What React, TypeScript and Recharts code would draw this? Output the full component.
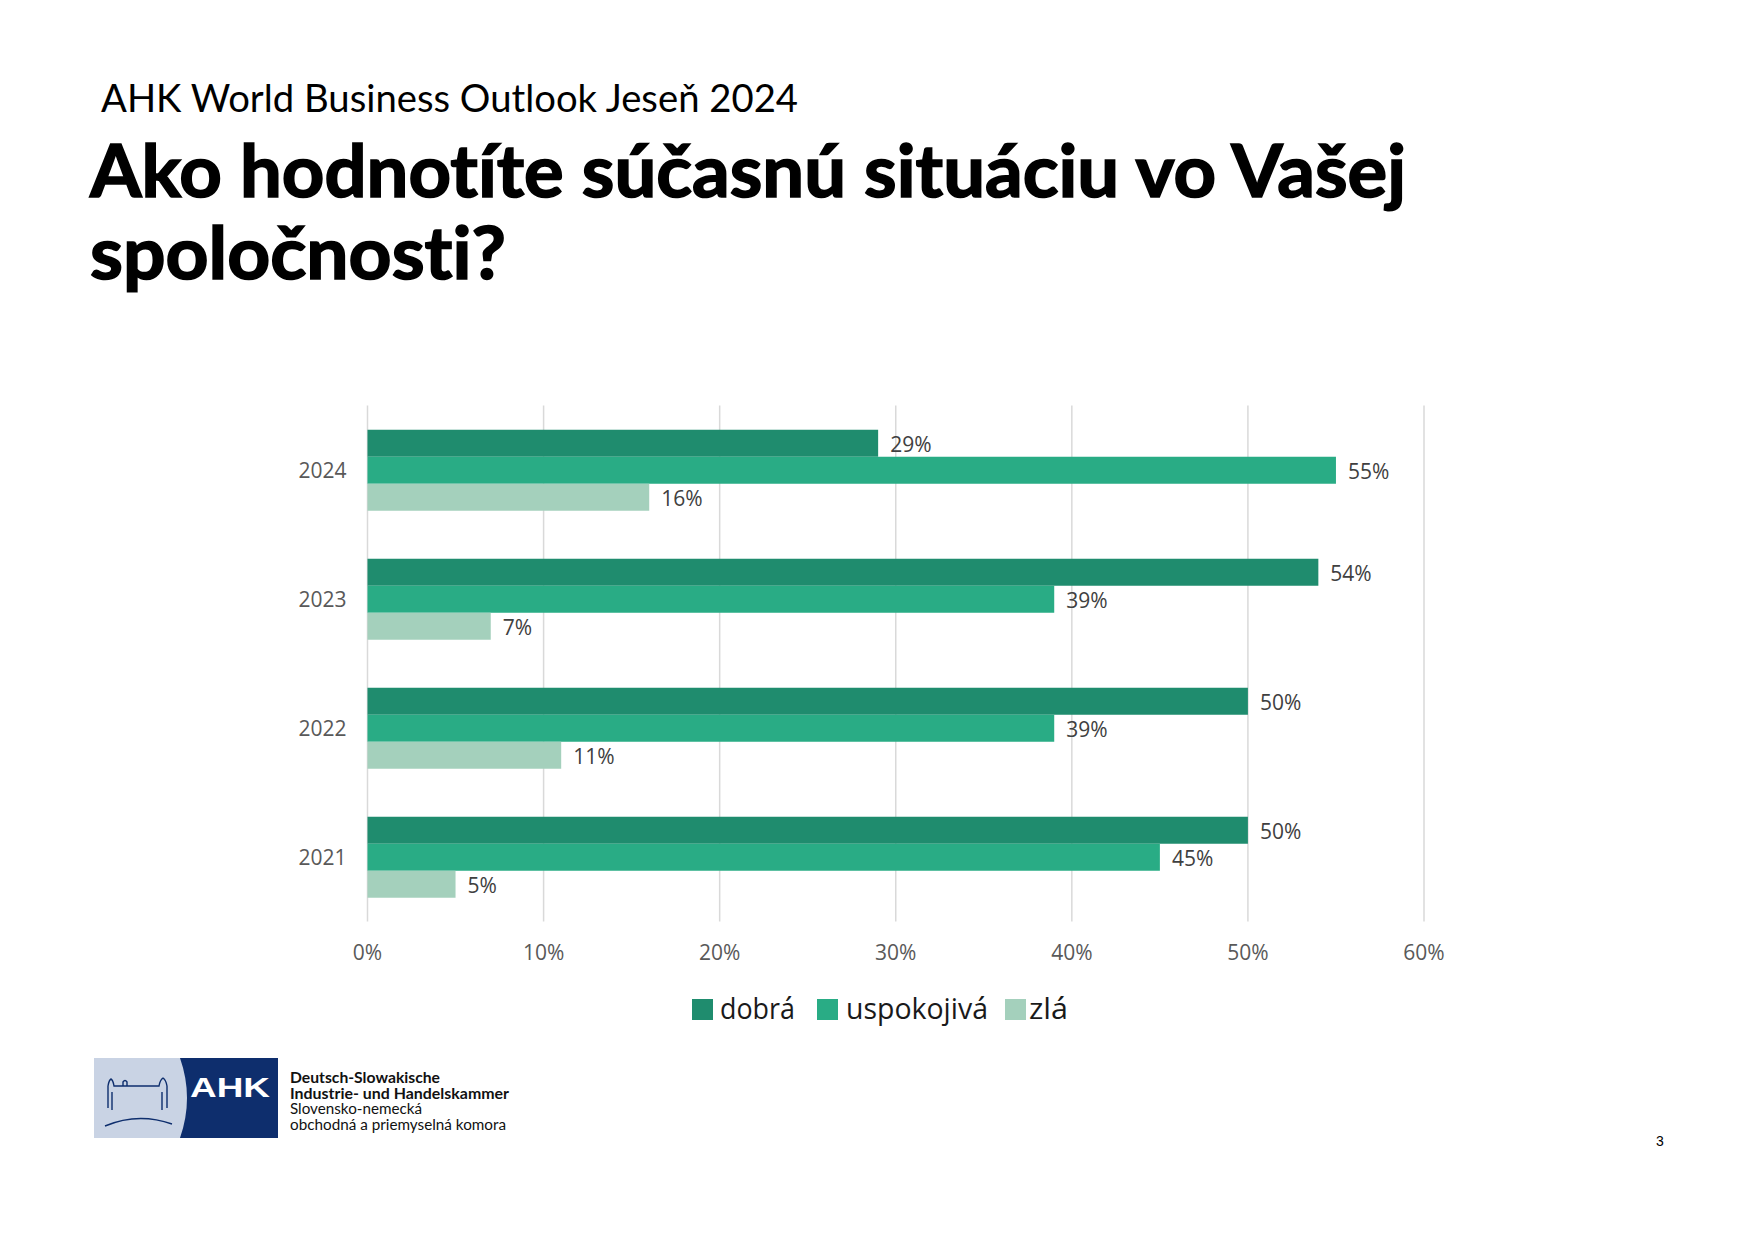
import React from 'react';
import { BarChart, Bar, XAxis, YAxis, CartesianGrid, LabelList } from 'recharts';

const years = ['2024', '2023', '2022', '2021'];
const dobra = [29, 54, 50, 50];
const uspokojiva = [55, 39, 39, 45];
const zla = [16, 7, 11, 5];
const xTicks = [0, 10, 20, 30, 40, 50, 60];
const seriesKeys = ['dobra', 'uspokojiva', 'zla'];
const seriesNames = ['dobrá', 'uspokojivá', 'zlá'];
const seriesColors = ['#1F8C6E', '#29AC85', '#A4D0BC'];

const subtitle = 'AHK World Business Outlook Jeseň 2024';
const titleLines = ['Ako hodnotíte súčasnú situáciu vo Vašej', 'spoločnosti?'];
const logoLines = [
  'Deutsch-Slowakische',
  'Industrie- und Handelskammer',
  'Slovensko-nemecká',
  'obchodná a priemyselná komora',
];

const data = years.map((y, i) => ({
  year: y,
  dobra: dobra[i],
  uspokojiva: uspokojiva[i],
  zla: zla[i],
}));

const FONT = '"Open Sans", "Noto Sans", sans-serif';
const noLig = { fontVariantLigatures: 'none' as const, fontFeatureSettings: '"liga" 0, "clig" 0' };

// legend item geometry (square left, text left, text width)
const legendSquareX = [692, 817, 1005];
const legendTextX = [720, 846, 1029];
const legendTextW = [75, 142, 39];

export default function App() {
  return (
    <div style={{ position: 'absolute', left: 0, top: 0, width: 1755, height: 1240, background: '#fff', overflow: 'hidden' }}>
      <div style={{ position: 'absolute', left: 0, top: 0 }}>
        <BarChart
          width={1755}
          height={1240}
          data={data}
          layout="vertical"
          margin={{ top: 405.5, right: 331, bottom: 288.5, left: 287.5 }}
          barGap={0}
          barCategoryGap="18.8%"
        >
          <CartesianGrid horizontal={false} vertical={true} stroke="#D9D9D9" strokeWidth={1.5} />
          <XAxis
            type="number"
            domain={[0, 60]}
            ticks={xTicks}
            tickFormatter={(v: number) => `${v}%`}
            axisLine={false}
            tickLine={false}
            tickSize={0}
            tickMargin={24}
            height={30}
            interval={0}
            tick={{ fill: '#595959', fontSize: 21, fontFamily: FONT }}
          />
          <YAxis
            type="category"
            dataKey="year"
            axisLine={false}
            tickLine={false}
            tickSize={0}
            tickMargin={21}
            width={80}
            tick={{ fill: '#595959', fontSize: 21, fontFamily: FONT, dy: 1 }}
          />
          {seriesKeys.map((k, i) => (
            <Bar key={k} dataKey={k} name={seriesNames[i]} fill={seriesColors[i]} isAnimationActive={false}>
              <LabelList
                dataKey={k}
                position="right"
                offset={12}
                formatter={(v: number) => `${v}%`}
                style={{ fill: '#404040', fontSize: 21, fontFamily: FONT }}
                dy={1.5}
              />
            </Bar>
          ))}
        </BarChart>
      </div>

      <svg width={1755} height={1240} style={{ position: 'absolute', left: 0, top: 0, pointerEvents: 'none' }}>
        {/* Legend */}
        {seriesNames.map((n, i) => (
          <g key={n}>
            <rect x={legendSquareX[i]} y={999} width={21} height={21} fill={seriesColors[i]} />
            <text
              x={legendTextX[i]}
              y={1019}
              fontFamily={FONT}
              fontSize={29}
              fill="#1a1a1a"
              textLength={legendTextW[i]}
              lengthAdjust="spacingAndGlyphs"
            >
              {n}
            </text>
          </g>
        ))}

        {/* Titles */}
        <text x={101} y={112} fontFamily="Lato, 'Open Sans', sans-serif" fontSize={38.5} fill="#000" textLength={697} lengthAdjust="spacingAndGlyphs" style={noLig}>
          {subtitle}
        </text>
        <text x={90} y={197} fontFamily="Lato, 'Open Sans', sans-serif" fontWeight={700} fontSize={73} fill="#000" stroke="#000" strokeWidth={1.6} textLength={1316} lengthAdjust="spacingAndGlyphs" style={noLig}>
          {titleLines[0]}
        </text>
        <text x={90} y={279} fontFamily="Lato, 'Open Sans', sans-serif" fontWeight={700} fontSize={73} fill="#000" stroke="#000" strokeWidth={1.6} textLength={416} lengthAdjust="spacingAndGlyphs" style={noLig}>
          {titleLines[1]}
        </text>

        {/* AHK logo */}
        <rect x={94} y={1058} width={184} height={80} fill="#C9D3E4" />
        <path d="M 180 1058 L 278 1058 L 278 1138 L 180 1138 Q 194 1098 180 1058 Z" fill="#0E2E6D" />
        <text x={190} y={1097} fontFamily="'Liberation Sans', Arial, sans-serif" fontWeight={700} fontSize={28} fill="#fff" textLength={80} lengthAdjust="spacingAndGlyphs">AHK</text>
        <g fill="none" stroke="#0E2E6D" strokeWidth={1.4}>
          <path d="M 108 1108 L 108 1086 Q 109 1080 111 1079 Q 113 1080 114 1086 L 159 1086 Q 160 1080 163 1078 Q 166 1080 167 1086 L 167 1108" />
          <path d="M 112 1092 L 112 1110 M 162 1092 L 162 1110" />
          <path d="M 123 1086 L 123 1082 Q 125 1079 127 1082 L 127 1086" />
          <path d="M 105 1126 Q 138 1112 172 1124" />
        </g>
        {logoLines.map((t, i) => (
          <text
            key={t}
            x={290}
            y={1083 + i * 15.5}
            fontFamily="Lato, 'Open Sans', sans-serif"
            fontWeight={i < 2 ? 700 : 400}
            fontSize={14.5}
            fill="#111"
            textLength={[150, 219, 132, 216][i]}
            lengthAdjust="spacingAndGlyphs"
          >
            {t}
          </text>
        ))}
        <text x={1660} y={1146} fontFamily="'Liberation Sans', Arial, sans-serif" fontSize={14} fill="#000" textAnchor="middle">3</text>
      </svg>
    </div>
  );
}
